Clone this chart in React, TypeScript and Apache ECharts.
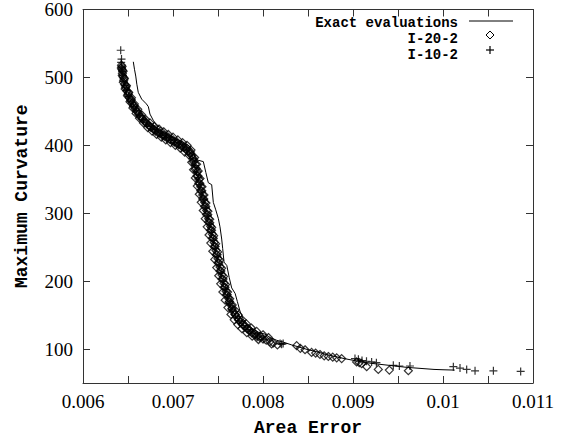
import React, { useEffect, useRef } from "react";
import * as echarts from "echarts";

const xTickValues = [0.006, 0.0065, 0.007, 0.0075, 0.008, 0.0085, 0.009, 0.0095, 0.01, 0.0105, 0.011];
const xLabelValues = [0.006, 0.007, 0.008, 0.009, 0.01, 0.011];
const yTickValues = [100, 200, 300, 400, 500, 600];
const yLabelValues = [100, 200, 300, 400, 500, 600];

const seriesNames = ["Exact evaluations", "I-20-2", "I-10-2"];

const exactEvaluations: [number, number][] = [
  [0.006559, 523], [0.006572, 512], [0.006586, 502], [0.006598, 490], [0.006614, 478],
  [0.006652, 468], [0.006704, 461], [0.006726, 457], [0.006744, 446], [0.00678, 437],
  [0.006819, 429], [0.006874, 425], [0.00694, 417], [0.007, 412], [0.00706, 408],
  [0.00712, 404], [0.00718, 399], [0.007222, 392], [0.007252, 380], [0.007281, 378],
  [0.007337, 376], [0.007365, 360], [0.007392, 345], [0.00743, 342], [0.007448, 316],
  [0.007475, 305], [0.007504, 292], [0.007522, 280], [0.007541, 262], [0.007552, 248],
  [0.007567, 228], [0.007598, 223], [0.007625, 205], [0.007652, 190], [0.00769, 182],
  [0.007715, 170], [0.007744, 156], [0.007781, 144], [0.00784, 135], [0.007893, 129],
  [0.00796, 124], [0.008022, 122], [0.00808, 117], [0.00815, 113], [0.00823, 110],
  [0.00832, 106], [0.0084, 103], [0.0085, 99], [0.0086, 96], [0.0087, 92],
  [0.0088, 89], [0.0089, 86], [0.009, 83.5], [0.0091, 81], [0.0092, 79],
  [0.0093, 77.5], [0.0094, 76], [0.0095, 74.5], [0.0096, 73], [0.0097, 72],
  [0.0098, 71], [0.0099, 70], [0.01, 69.5], [0.01013, 69],
];

const i20: [number, number][] = [
  [0.006428, 518], [0.006432, 512], [0.006438, 506], [0.006444, 501], [0.006452, 496],
  [0.006462, 490], [0.006474, 485], [0.006488, 480], [0.0065, 475], [0.006514, 470],
  [0.00653, 466], [0.006546, 462], [0.006562, 458], [0.00658, 454], [0.006598, 450],
  [0.006618, 446], [0.006638, 442], [0.00666, 439], [0.006684, 435], [0.006708, 432],
  [0.006732, 429], [0.006756, 426], [0.00678, 424], [0.006806, 421], [0.00683, 419],
  [0.006856, 417], [0.006882, 415], [0.006908, 413], [0.006934, 411], [0.00696, 409],
  [0.006986, 407], [0.007012, 405], [0.00704, 403], [0.007066, 401], [0.007092, 399],
  [0.007118, 397], [0.007144, 394], [0.007168, 391], [0.00719, 388], [0.007208, 385],
  [0.007222, 381], [0.007236, 377], [0.007248, 372], [0.007258, 366], [0.007268, 361],
  [0.007278, 355], [0.007288, 350], [0.007298, 344], [0.007308, 339], [0.00732, 333],
  [0.00733, 327], [0.007342, 321], [0.007352, 316], [0.007364, 310], [0.007374, 304],
  [0.007386, 298], [0.007396, 292], [0.007408, 286], [0.007418, 281], [0.007428, 275],
  [0.007438, 269], [0.007448, 263], [0.007458, 257], [0.007468, 251], [0.007478, 245],
  [0.00749, 239], [0.0075, 233], [0.00751, 227], [0.007522, 221], [0.007532, 215],
  [0.007544, 209], [0.007556, 203], [0.007566, 197], [0.007578, 191], [0.00759, 185],
  [0.007602, 180], [0.007614, 175], [0.007628, 170], [0.007642, 165], [0.007656, 160],
  [0.007672, 155], [0.00769, 151], [0.007708, 147], [0.007728, 143], [0.00775, 139],
  [0.007774, 136], [0.007798, 133], [0.007822, 130], [0.007848, 127], [0.007874, 124],
  [0.007902, 121], [0.007932, 119], [0.007964, 117], [0.007998, 115], [0.008036, 113],
  [0.008076, 111], [0.008096, 107.5], [0.008115, 109], [0.00816, 106],
  [0.008374, 105], [0.008415, 101], [0.008467, 99],
  [0.00854, 95], [0.008585, 94], [0.008633, 92], [0.00868, 90], [0.008726, 89],
  [0.008775, 88], [0.008819, 87], [0.008874, 86], [0.00904, 81], [0.00907, 80],
  [0.009096, 78.5], [0.009152, 74], [0.009281, 70], [0.009404, 69], [0.009615, 68],
  [0.006426, 514], [0.006436, 503], [0.006448, 493], [0.006468, 483], [0.006494, 473],
  [0.006522, 464], [0.006554, 455], [0.00659, 447], [0.006628, 440], [0.006672, 433],
  [0.00672, 426], [0.006768, 421], [0.006818, 416], [0.00687, 412], [0.00692, 408],
  [0.006972, 404], [0.007026, 400], [0.00708, 396], [0.00713, 390], [0.007176, 386],
  [0.006446, 509], [0.00646, 498], [0.006482, 488], [0.006508, 478], [0.006538, 470],
  [0.00657, 461], [0.006608, 453], [0.00665, 445], [0.006696, 438], [0.006744, 433],
  [0.006794, 428], [0.006844, 424], [0.006896, 420], [0.006948, 416], [0.007, 412],
  [0.007054, 408], [0.007106, 404], [0.007156, 400], [0.0072, 393],
  [0.007208, 375], [0.007228, 364], [0.007248, 352], [0.00727, 340], [0.007292, 328],
  [0.007314, 316], [0.007336, 304], [0.007358, 292], [0.00738, 280], [0.0074, 268],
  [0.00742, 256], [0.007442, 244], [0.007464, 232], [0.007486, 220], [0.007508, 208],
  [0.00753, 196], [0.007554, 184], [0.00758, 172], [0.00761, 161], [0.007644, 151],
  [0.00768, 143], [0.00772, 136], [0.007766, 130], [0.00782, 124], [0.00788, 119],
  [0.00795, 114],
  [0.00724, 382], [0.007262, 372], [0.00728, 362], [0.0073, 351], [0.007322, 339],
  [0.007344, 327], [0.007366, 315], [0.007388, 303], [0.007408, 291], [0.00743, 279],
  [0.007452, 267], [0.007474, 255], [0.007496, 243], [0.007518, 231], [0.00754, 219],
  [0.007562, 207], [0.007584, 195], [0.007606, 184], [0.00763, 174], [0.007658, 165],
  [0.00769, 157], [0.007726, 150], [0.007768, 143], [0.007816, 137], [0.00787, 131],
  [0.00793, 126], [0.008, 121], [0.00806, 117],
  [0.006434, 516], [0.00644, 510], [0.006456, 499], [0.006478, 487], [0.006504, 477],
  [0.006536, 467], [0.006572, 458], [0.00661, 449], [0.006652, 441], [0.0067, 434],
  [0.00675, 428], [0.0068, 423], [0.00685, 419], [0.0069, 415], [0.00695, 412],
  [0.007002, 408], [0.007052, 404], [0.007104, 400], [0.007152, 396], [0.007194, 390],
  [0.007226, 376], [0.007246, 365], [0.007266, 355], [0.007286, 344], [0.007308, 333],
  [0.00733, 321], [0.00735, 310], [0.007372, 298], [0.007394, 287], [0.007416, 275],
  [0.007436, 263], [0.007458, 251], [0.00748, 239], [0.0075, 227], [0.007522, 215],
  [0.007544, 203], [0.007568, 191], [0.007594, 180], [0.007622, 169], [0.007654, 159],
  [0.00769, 151], [0.007732, 143], [0.00778, 136], [0.007836, 130], [0.0079, 124],
  [0.00797, 119],
];

const i10: [number, number][] = [
  [0.006419, 540], [0.006428, 527], [0.006424, 522], [0.00643, 515], [0.006436, 509],
  [0.006442, 503], [0.006452, 494], [0.006464, 488], [0.006482, 481], [0.006506, 472],
  [0.006532, 464], [0.00656, 457], [0.006592, 451], [0.006626, 444], [0.006664, 438],
  [0.006704, 433], [0.006746, 428], [0.00679, 423], [0.006836, 418], [0.00688, 414],
  [0.006926, 411], [0.006972, 408], [0.007018, 404], [0.007064, 401], [0.007108, 397],
  [0.00715, 393], [0.007188, 387], [0.007218, 380], [0.007244, 370], [0.007262, 361],
  [0.00728, 352], [0.0073, 342], [0.007322, 331], [0.007344, 320], [0.007366, 308],
  [0.007388, 296], [0.00741, 284], [0.00743, 272], [0.00745, 260], [0.00747, 248],
  [0.007492, 236], [0.007514, 224], [0.007536, 212], [0.007558, 200], [0.007582, 188],
  [0.007606, 177], [0.007632, 167], [0.00766, 158], [0.007694, 150], [0.007732, 142],
  [0.007776, 135], [0.007826, 129], [0.00788, 123], [0.00794, 118], [0.00801, 114],
  [0.00819, 108], [0.008207, 107], [0.008224, 108], [0.009022, 86], [0.00906, 85],
  [0.0091, 83], [0.00915, 82], [0.009207, 81], [0.00926, 80], [0.009448, 76],
  [0.009515, 75], [0.009633, 75], [0.010115, 74], [0.010189, 72], [0.010263, 70],
  [0.010356, 68], [0.01056, 68], [0.010863, 67],
];

const serif = '"Liberation Serif", "Times New Roman", serif';
const mono = '"Liberation Mono", "DejaVu Sans Mono", monospace';

export default function App() {
  const ref = useRef<HTMLDivElement>(null);
  useEffect(() => {
    if (!ref.current) return;
    const chart = echarts.init(ref.current, null, { renderer: "svg" });
    const fmt = (v: number) => String(parseFloat(Number(v).toFixed(4)));
    const axisLine = { show: true, onZero: false, lineStyle: { color: "#333", width: 1 } };
    const legendFont = `bold 14px ${mono}`;
    const legendText = (text: string, y: number) => ({
      type: "text", x: 458, y,
      style: { text, font: legendFont, fill: "#000", align: "right", verticalAlign: "middle" },
    });
    chart.setOption({
      animation: false,
      backgroundColor: "#fff",
      grid: { left: 83, right: 33, top: 4, bottom: 61, containLabel: false },
      xAxis: [
        {
          type: "value", min: 0.006, max: 0.011, position: "bottom",
          name: "Area Error", nameLocation: "middle", nameGap: 36,
          nameTextStyle: { fontFamily: mono, fontWeight: "bold", fontSize: 18, color: "#000" },
          axisLine,
          axisTick: { show: true, inside: true, length: 7, customValues: xTickValues, lineStyle: { color: "#333" } },
          axisLabel: { show: true, customValues: xLabelValues, formatter: fmt, fontFamily: serif, fontSize: 19, color: "#000", margin: 9 },
          splitLine: { show: false },
        },
        {
          type: "value", min: 0.006, max: 0.011, position: "top",
          axisLine,
          axisTick: { show: true, inside: true, length: 7, customValues: xTickValues, lineStyle: { color: "#333" } },
          axisLabel: { show: false },
          splitLine: { show: false },
        },
      ],
      yAxis: [
        {
          type: "value", min: 50, max: 600, position: "left",
          name: "Maximum Curvature", nameLocation: "middle", nameGap: 52,
          nameTextStyle: { fontFamily: mono, fontWeight: "bold", fontSize: 18, color: "#000" },
          axisLine,
          axisTick: { show: true, inside: true, length: 7, customValues: yTickValues, lineStyle: { color: "#333" } },
          axisLabel: { show: true, customValues: yLabelValues, fontFamily: serif, fontSize: 19, color: "#000", margin: 10 },
          splitLine: { show: false },
        },
        {
          type: "value", min: 50, max: 600, position: "right",
          axisLine,
          axisTick: { show: true, inside: true, length: 7, customValues: yTickValues, lineStyle: { color: "#333" } },
          axisLabel: { show: false },
          splitLine: { show: false },
        },
      ],
      series: [
        {
          name: seriesNames[0], type: "line", data: exactEvaluations, showSymbol: false,
          lineStyle: { color: "#000", width: 1 }, silent: true, z: 2,
        },
        {
          name: seriesNames[1], type: "scatter", data: i20, symbol: "diamond", symbolSize: 8,
          itemStyle: { color: "rgba(0,0,0,0)", borderColor: "#000", borderWidth: 1.2 }, silent: true, z: 3,
        },
        {
          name: seriesNames[2], type: "scatter", data: i10, symbol: "path://M5,0L5,10M0,5L10,5", symbolSize: 8,
          itemStyle: { color: "none", borderColor: "#000", borderWidth: 1.2 }, silent: true, z: 4,
        },
      ],
      graphic: [
        legendText(seriesNames[0], 23),
        legendText(seriesNames[1], 39),
        legendText(seriesNames[2], 55),
        { type: "line", shape: { x1: 469, y1: 21, x2: 513, y2: 21 }, style: { stroke: "#000", lineWidth: 1 } },
        { type: "polygon", shape: { points: [[490, 31], [494, 35], [490, 39], [486, 35]] }, style: { fill: "none", stroke: "#000", lineWidth: 1 } },
        { type: "line", shape: { x1: 490, y1: 46, x2: 490, y2: 54 }, style: { stroke: "#000", lineWidth: 1.2 } },
        { type: "line", shape: { x1: 486, y1: 50, x2: 494, y2: 50 }, style: { stroke: "#000", lineWidth: 1.2 } },
      ],
    });
    return () => chart.dispose();
  }, []);
  return <div ref={ref} style={{ position: "absolute", left: 0, top: 0, width: 566, height: 444 }} />;
}
